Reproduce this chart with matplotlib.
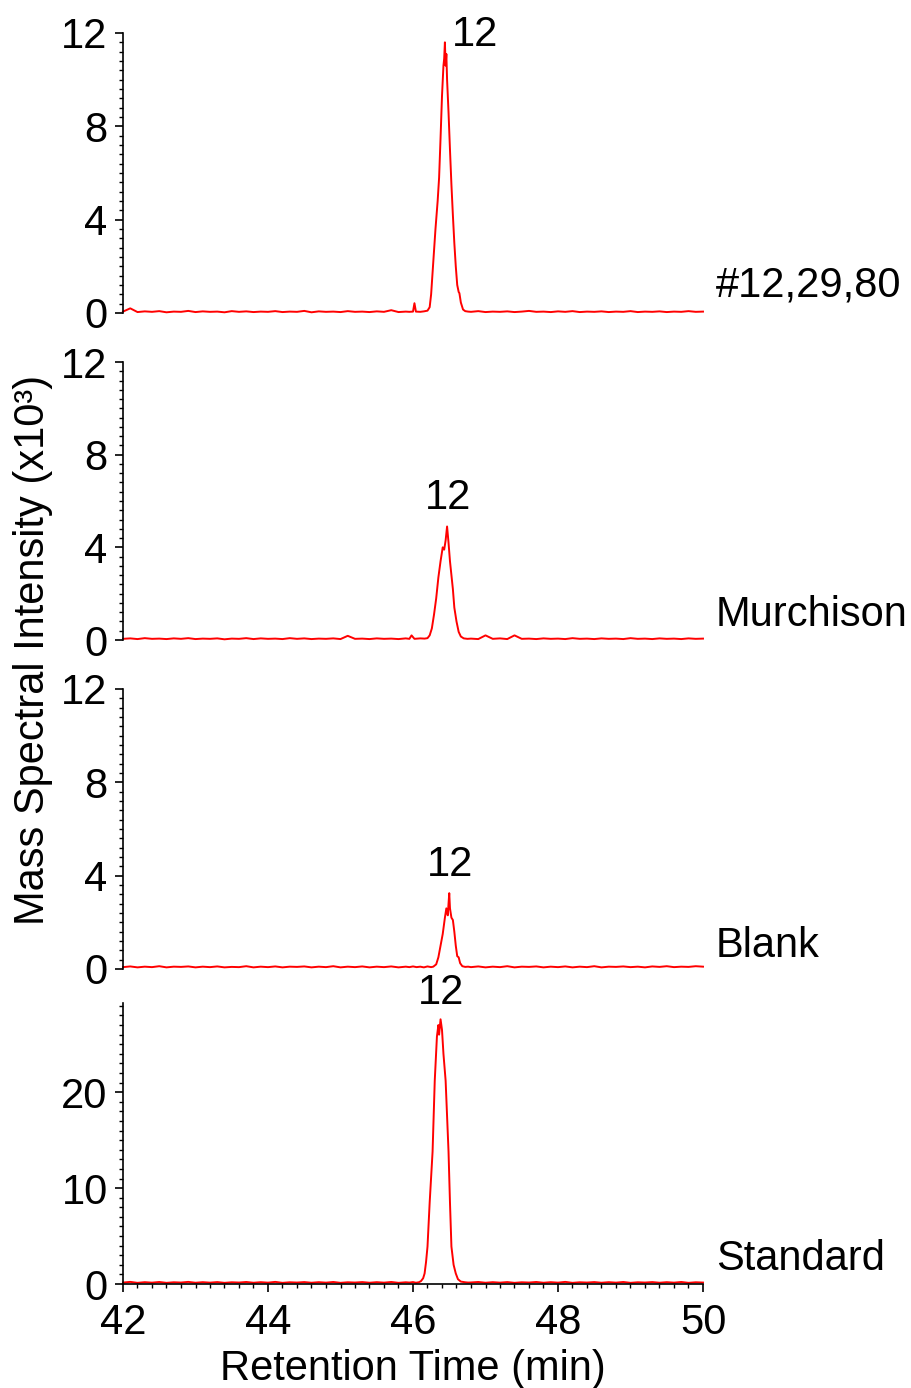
import matplotlib
matplotlib.use("Agg")
import matplotlib.pyplot as plt
from matplotlib.ticker import MultipleLocator

plt.rcParams['font.family'] = ['Liberation Sans', 'DejaVu Sans']

# shared retention-time grids for the flat baseline parts (min)
pre_t = [42.0, 42.1, 42.2, 42.3, 42.4, 42.5, 42.6, 42.7, 42.8, 42.9,
         43.0, 43.1, 43.2, 43.3, 43.4, 43.5, 43.6, 43.7, 43.8, 43.9,
         44.0, 44.1, 44.2, 44.3, 44.4, 44.5, 44.6, 44.7, 44.8, 44.9,
         45.0, 45.1, 45.2, 45.3, 45.4, 45.5, 45.6, 45.7, 45.8, 45.9]
post_t = [46.8, 46.9, 47.0, 47.1, 47.2, 47.3, 47.4, 47.5, 47.6, 47.7,
          47.8, 47.9, 48.0, 48.1, 48.2, 48.3, 48.4, 48.5, 48.6, 48.7,
          48.8, 48.9, 49.0, 49.1, 49.2, 49.3, 49.4, 49.5, 49.6, 49.7,
          49.8, 49.9, 50.0]

# sample #12,29,80
s1_pre = [0.06, 0.20, 0.04, 0.07, 0.05, 0.08, 0.03, 0.06, 0.05, 0.09,
          0.04, 0.07, 0.05, 0.06, 0.03, 0.08, 0.05, 0.07, 0.04, 0.06,
          0.05, 0.08, 0.04, 0.06, 0.05, 0.09, 0.03, 0.07, 0.05, 0.06,
          0.04, 0.08, 0.05, 0.06, 0.04, 0.07, 0.05, 0.12, 0.04, 0.06]
s1_pk_t = [45.95, 46.0, 46.02, 46.04, 46.1, 46.15, 46.2, 46.23, 46.25, 46.28,
           46.31, 46.34, 46.36, 46.38, 46.40, 46.42, 46.43, 46.44, 46.45, 46.46,
           46.47, 46.49, 46.51, 46.53, 46.55, 46.57, 46.59, 46.61, 46.63, 46.64,
           46.66, 46.69, 46.72, 46.76]
s1_pk_v = [0.05, 0.06, 0.42, 0.06, 0.05, 0.07, 0.10, 0.25, 0.8, 2.2,
           3.6, 4.8, 5.8, 7.5, 9.3, 10.6, 10.9, 11.6, 10.6, 11.1,
           10.0, 8.6, 7.0, 5.5, 4.2, 3.0, 2.0, 1.2, 0.9, 0.85,
           0.45, 0.15, 0.08, 0.06]
s1_post = [0.05, 0.08, 0.04, 0.06, 0.05, 0.07, 0.04, 0.06, 0.09, 0.05,
           0.06, 0.04, 0.07, 0.05, 0.08, 0.04, 0.06, 0.05, 0.07, 0.04,
           0.06, 0.05, 0.08, 0.04, 0.06, 0.05, 0.07, 0.04, 0.06, 0.05,
           0.08, 0.05, 0.06]

# Murchison
s2_pre = [0.05, 0.07, 0.04, 0.08, 0.05, 0.06, 0.04, 0.07, 0.05, 0.08,
          0.04, 0.06, 0.05, 0.07, 0.03, 0.06, 0.05, 0.08, 0.04, 0.07,
          0.05, 0.06, 0.04, 0.08, 0.05, 0.07, 0.04, 0.06, 0.05, 0.07,
          0.04, 0.18, 0.05, 0.06, 0.04, 0.07, 0.05, 0.06, 0.04, 0.07]
s2_pk_t = [45.95, 45.98, 46.02, 46.1, 46.16, 46.20, 46.23, 46.26, 46.29, 46.32,
           46.35, 46.38, 46.41, 46.43, 46.45, 46.47, 46.49, 46.51, 46.53, 46.55,
           46.57, 46.60, 46.63, 46.66, 46.70, 46.75]
s2_pk_v = [0.05, 0.20, 0.05, 0.07, 0.06, 0.08, 0.20, 0.5, 1.1, 1.8,
           2.7, 3.4, 4.0, 3.9, 4.3, 4.9, 4.2, 3.4, 2.8, 2.2,
           1.4, 0.8, 0.35, 0.15, 0.07, 0.05]
s2_post = [0.06, 0.04, 0.20, 0.05, 0.07, 0.04, 0.20, 0.05, 0.06, 0.04,
           0.07, 0.05, 0.06, 0.04, 0.08, 0.05, 0.06, 0.04, 0.07, 0.05,
           0.06, 0.04, 0.08, 0.05, 0.06, 0.04, 0.07, 0.05, 0.06, 0.04,
           0.07, 0.05, 0.06]

# Blank
s3_pre = [0.08, 0.11, 0.07, 0.10, 0.08, 0.12, 0.07, 0.10, 0.09, 0.11,
          0.07, 0.10, 0.08, 0.11, 0.07, 0.09, 0.08, 0.12, 0.07, 0.10,
          0.08, 0.11, 0.07, 0.10, 0.09, 0.11, 0.07, 0.10, 0.08, 0.12,
          0.07, 0.10, 0.08, 0.11, 0.07, 0.10, 0.08, 0.11, 0.07, 0.10]
s3_pk_t = [45.95, 46.0, 46.05, 46.1, 46.15, 46.2, 46.25, 46.28, 46.32, 46.35,
           46.38, 46.41, 46.44, 46.46, 46.48, 46.49, 46.50, 46.51, 46.53, 46.55,
           46.57, 46.59, 46.61, 46.63, 46.65, 46.68, 46.72, 46.76]
s3_pk_v = [0.08, 0.11, 0.08, 0.10, 0.07, 0.11, 0.08, 0.10, 0.20, 0.5,
           1.0, 1.5, 2.2, 2.6, 2.3, 2.8, 3.25, 2.6, 2.2, 2.1,
           1.6, 1.0, 0.55, 0.5, 0.25, 0.12, 0.09, 0.10]
s3_post = [0.08, 0.11, 0.07, 0.10, 0.08, 0.12, 0.07, 0.10, 0.09, 0.11,
           0.07, 0.10, 0.08, 0.11, 0.07, 0.10, 0.08, 0.12, 0.07, 0.10,
           0.09, 0.11, 0.08, 0.10, 0.07, 0.11, 0.09, 0.12, 0.08, 0.10,
           0.09, 0.12, 0.10]

# Standard
s4_pre = [0.15, 0.22, 0.12, 0.19, 0.14, 0.21, 0.12, 0.18, 0.15, 0.22,
          0.13, 0.19, 0.14, 0.20, 0.12, 0.18, 0.15, 0.21, 0.13, 0.19,
          0.14, 0.22, 0.12, 0.18, 0.15, 0.20, 0.13, 0.19, 0.14, 0.21,
          0.12, 0.18, 0.15, 0.20, 0.13, 0.19, 0.14, 0.21, 0.12, 0.18]
s4_pk_t = [45.95, 46.0, 46.04, 46.08, 46.11, 46.14, 46.16, 46.18, 46.20, 46.23,
           46.27, 46.30, 46.33, 46.35, 46.36, 46.38, 46.40, 46.42, 46.45, 46.49,
           46.51, 46.53, 46.56, 46.59, 46.62, 46.66, 46.72, 46.76]
s4_pk_v = [0.15, 0.20, 0.13, 0.18, 0.3, 0.6, 1.1, 2.3, 3.9, 8.5,
           13.8, 21.2, 25.8, 27.0, 26.0, 27.6, 26.5, 24.0, 21.2, 13.8,
           8.5, 3.9, 2.0, 1.1, 0.5, 0.25, 0.18, 0.15]
s4_post = [0.16, 0.21, 0.13, 0.19, 0.14, 0.20, 0.12, 0.18, 0.15, 0.21,
           0.13, 0.19, 0.14, 0.22, 0.12, 0.18, 0.15, 0.20, 0.13, 0.19,
           0.14, 0.21, 0.12, 0.18, 0.15, 0.20, 0.13, 0.19, 0.14, 0.21,
           0.12, 0.18, 0.15]

names = ['#12,29,80', 'Murchison', 'Blank', 'Standard']
traces = [(s1_pre, s1_pk_t, s1_pk_v, s1_post),
          (s2_pre, s2_pk_t, s2_pk_v, s2_post),
          (s3_pre, s3_pk_t, s3_pk_v, s3_post),
          (s4_pre, s4_pk_t, s4_pk_v, s4_post)]
peak_lbl = ['12', '12', '12', '12']
peak_lbl_xy = [(46.86, 11.9), (46.48, 6.13), (46.51, 4.46), (46.39, 30.3)]
name_y = [1.2, 1.1, 1.0, 2.6]
ymax = [12, 12, 12, 29.3]

W, H = 912, 1388
fig = plt.figure(figsize=(W / 100, H / 100), dpi=100)
boxes = [(33, 313), (362, 640), (689, 969), (1003, 1284)]
left, right = 123, 703
fs = 30

for i, (top, bot) in enumerate(boxes):
    ax = fig.add_axes([left / W, 1 - bot / H, (right - left) / W, (bot - top) / H])
    pre, pk_t, pk_v, post = traces[i]
    t = pre_t + pk_t + post_t
    v = pre + pk_v + post
    ax.plot(t, v, color='#ff0000', lw=1.4, clip_on=False)
    ax.set_xlim(42, 50)
    ax.set_ylim(0, ymax[i])
    ax.spines['top'].set_visible(False)
    ax.spines['right'].set_visible(False)
    ax.spines['left'].set_linewidth(1.2)
    if i < 3:
        ax.yaxis.set_major_locator(MultipleLocator(4))
        ax.yaxis.set_minor_locator(MultipleLocator(0.4))
        ax.spines['bottom'].set_visible(False)
        ax.tick_params(axis='x', which='both', bottom=False, labelbottom=False)
    else:
        ax.yaxis.set_major_locator(MultipleLocator(10))
        ax.yaxis.set_minor_locator(MultipleLocator(1))
        ax.xaxis.set_major_locator(MultipleLocator(2))
        ax.xaxis.set_minor_locator(MultipleLocator(0.2))
        ax.spines['bottom'].set_linewidth(1.2)
        ax.set_xlabel('Retention Time (min)', fontsize=fs, labelpad=4)
    ax.tick_params(which='major', direction='out', length=6, width=1.2,
                   labelsize=fs, pad=5)
    ax.tick_params(axis='x', which='major', pad=8)
    ax.tick_params(which='minor', direction='out', length=3, width=1)
    lx, ly = peak_lbl_xy[i]
    ax.text(lx, ly, peak_lbl[i], fontsize=fs, ha='center', va='center',
            clip_on=False)
    ax.text(50.18, name_y[i], names[i], fontsize=fs, ha='left', va='center',
            clip_on=False)

fig.text(33 / W, 1 - 650 / H, 'Mass Spectral Intensity (x10³)', fontsize=fs,
         rotation=90, ha='center', va='center')

fig.savefig('out.png', dpi=100)
